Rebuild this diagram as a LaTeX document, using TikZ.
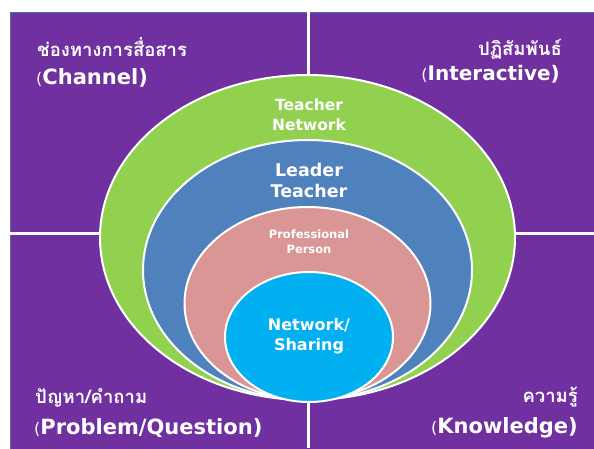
\documentclass[tikz,border=0pt]{standalone}
\usepackage{fontspec}
\setmainfont{DejaVu Sans}
\newfontfamily\thaifont[Script=Thai]{Loma}
\usetikzlibrary{shapes.geometric}
\definecolor{bgpurple}{HTML}{7030A0}
\definecolor{ringgreen}{HTML}{92D050}
\definecolor{ringblue}{HTML}{4F81BD}
\definecolor{ringpink}{HTML}{D99694}
\definecolor{ringcyan}{HTML}{00B0F0}
\definecolor{edgeblue}{HTML}{4F6FA8}
\begin{document}
\begin{tikzpicture}[x=1pt,y=-1pt,
  ring/.style={ellipse,draw=white,line width=2pt,inner sep=0pt},
  divider/.style={draw=white,line width=3pt},
  ringtext/.style={text=white,align=center,inner sep=0pt},
  thailbl/.style={text=white,inner sep=0pt,font=\thaifont\bfseries\fontsize{18.5}{22}\selectfont},
  englbl/.style={text=white,inner sep=0pt,font=\bfseries\fontsize{21}{25}\selectfont}]
\useasboundingbox (0,0) rectangle (594,448);
\fill[white] (0,0) rectangle (594,448);
\draw[fill=bgpurple,draw=edgeblue,line width=1pt] (10,12) rectangle (600,455);
% dividers
\coordinate (topmid) at (308,12);
\coordinate (botmid) at (308,448);
\coordinate (leftmid) at (10,233);
\coordinate (rightmid) at (594,233);
\draw[divider] (topmid) -- (botmid);
\draw[divider] (leftmid) -- (rightmid);
% rings
\node[ring,fill=ringgreen,minimum width=415pt,minimum height=325pt] (green) at (307.5,237.5) {};
\node[ring,fill=ringblue,minimum width=329pt,minimum height=260pt] (blue) at (307.5,270) {};
\node[ring,fill=ringpink,minimum width=246pt,minimum height=193pt] (pink) at (307.5,303.5) {};
\node[ring,fill=ringcyan,minimum width=168pt,minimum height=130pt] (cyan) at (309,337) {};
% ring texts
\node[ringtext,font=\bfseries\fontsize{15.5}{20}\selectfont] (tn) at (309,115) {Teacher\\Network};
\node[ringtext,font=\bfseries\fontsize{17.5}{21}\selectfont] (lt) at (309,180) {Leader\\Teacher};
\node[ringtext,font=\bfseries\fontsize{11.5}{15}\selectfont] (pp) at (309,242) {Professional\\Person};
\node[ringtext,font=\bfseries\fontsize{16}{20}\selectfont] (ns) at (309,336) {Network/\\Sharing};
% corner labels
\node[thailbl,anchor=base west] (chth) at (37,56) {ช่องทางการสื่อสาร};
\node[englbl,anchor=base west] (chen) at (36,84) {{\mdseries\fontsize{16}{20}\selectfont(}Channel)};
\node[thailbl,anchor=base east] (inth) at (562,55) {ปฏิสัมพันธ์};
\node[englbl,anchor=base east,font=\bfseries\fontsize{20}{24}\selectfont] (inen) at (560,80) {{\mdseries\fontsize{16}{20}\selectfont(}Interactive)};
\node[thailbl,anchor=base west] (prth) at (35,403) {ปัญหา/คำถาม};
\node[englbl,anchor=base west] (pren) at (34,434) {{\mdseries\fontsize{16}{20}\selectfont(}Problem/Question)};
\node[thailbl,anchor=base east] (knth) at (578,402) {ความรู้};
\node[englbl,anchor=base east] (knen) at (578,433) {{\mdseries\fontsize{16}{20}\selectfont(}Knowledge)};
\end{tikzpicture}
\end{document}
